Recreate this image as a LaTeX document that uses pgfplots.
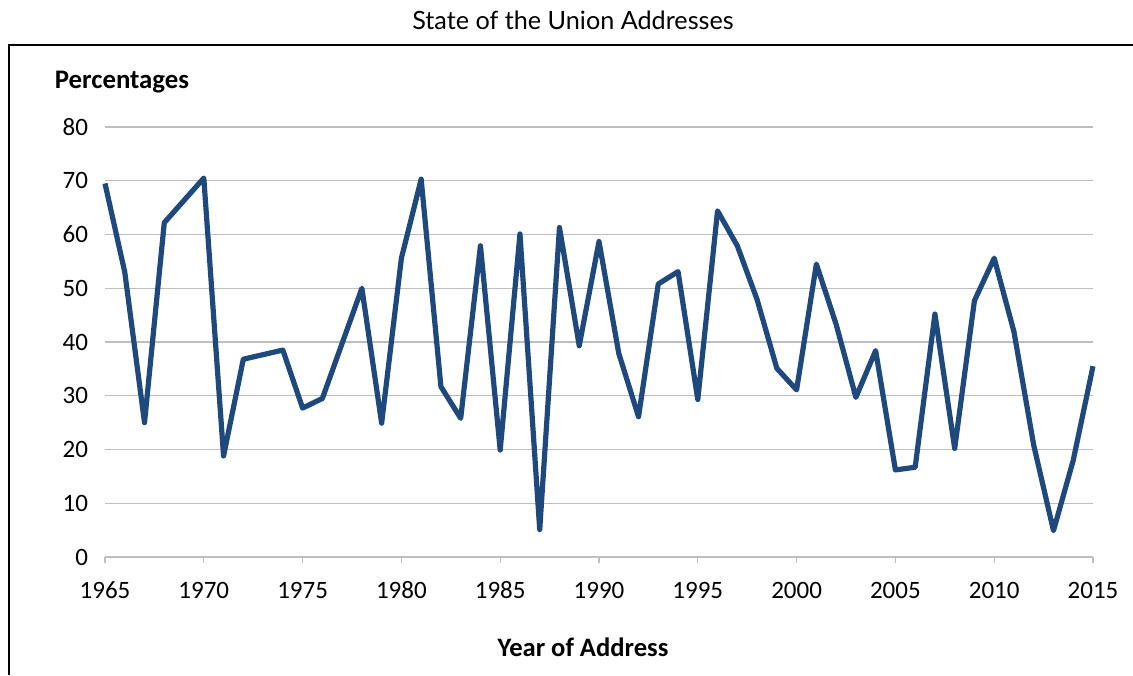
\documentclass[border=0pt]{standalone}
\usepackage{pgfplots}
\pgfplotsset{compat=1.18}
\usepackage{fontspec}
\setmainfont{Carlito}
\newfontfamily\titlefont{Lato}
\definecolor{linecol}{RGB}{31,73,125}
\definecolor{gridcol}{RGB}{190,190,190}
\begin{document}
\begin{tikzpicture}
\useasboundingbox (0pt,0pt) rectangle (566.5pt,337.5pt);
\draw[black,line width=0.6pt] (4.5pt,0pt) -- (4.5pt,315pt) -- (566.5pt,315pt);
\node[font=\titlefont\fontsize{12.6}{14}\selectfont] at (286.5pt,327.5pt) {State of the Union Addresses};
\node[font=\bfseries\fontsize{13.4}{15}\selectfont] at (61pt,296.5pt) {Percentages};
\node[font=\bfseries\fontsize{13.3}{15}\selectfont] at (291.5pt,14pt) {Year of Address};
\begin{axis}[
  at={(52.5pt,59pt)}, anchor=south west,
  scale only axis, width=494pt, height=215pt,
  xmin=1965, xmax=2015, ymin=0, ymax=80,
  xtick={1965,1970,...,2015}, ytick={0,10,...,80},
  /pgf/number format/1000 sep={},
  /pgf/number format/assume math mode=true,
  ticklabel style={font=\fontsize{12.5}{14}\selectfont},
  xticklabel style={anchor=base, yshift=-17.5pt},
  axis x line*=bottom, axis y line*=left,
  y axis line style={draw=none},
  x axis line style={draw=gridcol, line width=0.6pt},
  ymajorgrids, grid style={draw=gridcol, line width=0.6pt},
  tick align=outside, major tick length=3pt,
  xtick style={draw=gridcol, line width=0.6pt},
  ytick style={draw=none},
  yticklabel style={xshift=-2pt},
  clip=false,
]
\addplot[linecol, line width=2.6pt, line join=round] coordinates {
(1965,69.5)(1966,53)(1967,25)(1968,62.2)(1970,70.5)(1971,18.8)(1972,36.8)
(1974,38.5)(1975,27.7)(1976,29.5)(1978,50)(1979,24.9)(1980,55.6)(1981,70.3)
(1982,31.7)(1983,25.8)(1984,57.9)(1985,19.9)(1986,60.1)(1987,5.1)(1988,61.3)
(1989,39.3)(1990,58.7)(1991,37.9)(1992,26.1)(1993,50.8)(1994,53.1)(1995,29.3)
(1996,64.4)(1997,57.9)(1998,47.9)(1999,35.1)(2000,31.1)(2001,54.5)(2002,43.3)
(2003,29.7)(2004,38.4)(2005,16.2)(2006,16.7)(2007,45.2)(2008,20.2)(2009,47.7)
(2010,55.6)(2011,41.9)(2012,20.8)(2013,4.9)(2014,18)(2015,35.5)
};
\end{axis}
\end{tikzpicture}
\end{document}
